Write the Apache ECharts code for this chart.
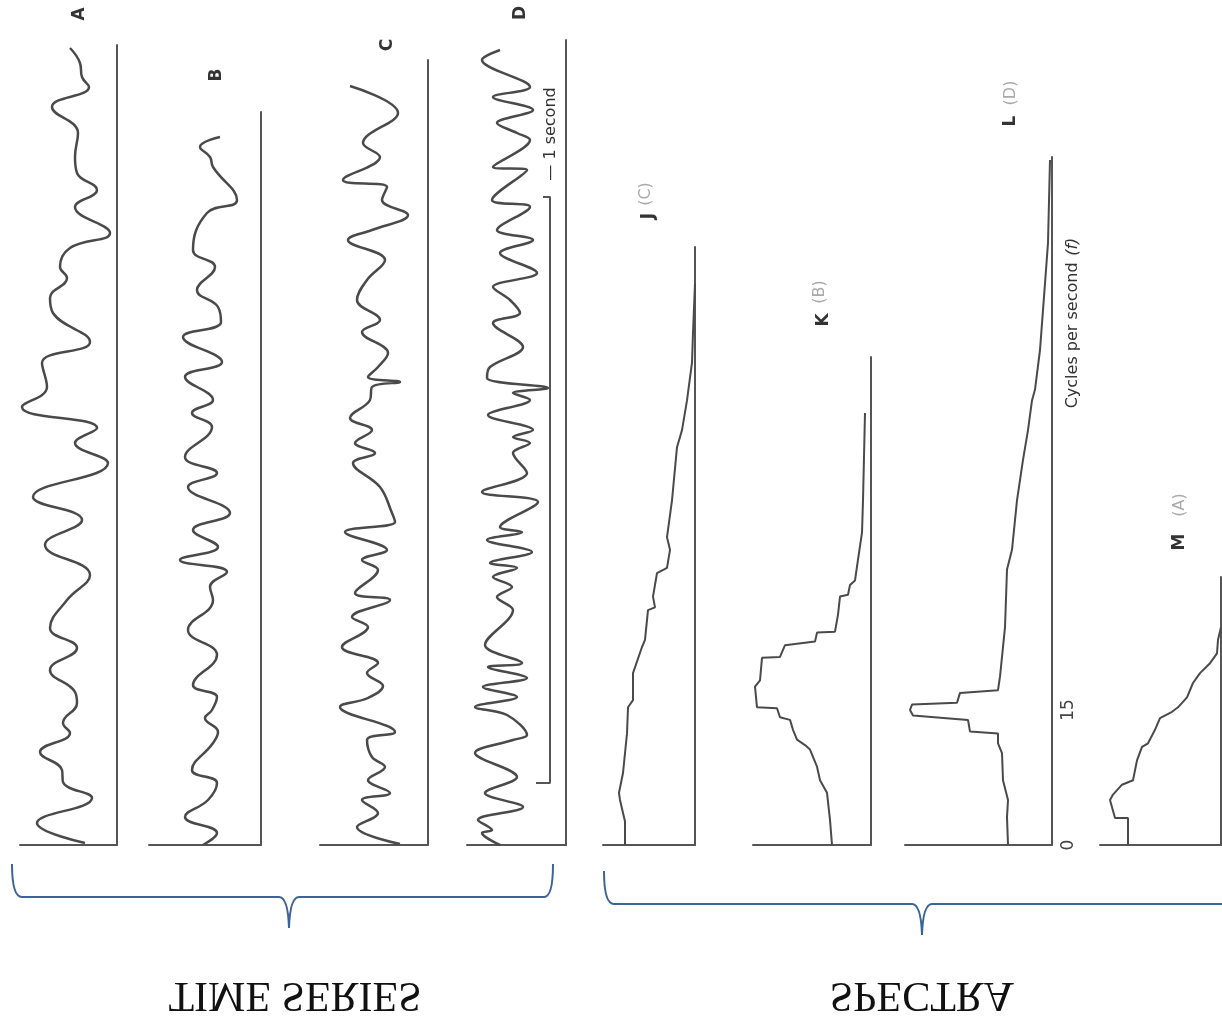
<!DOCTYPE html>
<html>
<head>
<meta charset="utf-8">
<script src="https://cdn.jsdelivr.net/npm/echarts@6/dist/echarts.min.js"></script>
<style>
html,body{margin:0;padding:0;background:#fff;}
#c{width:1222px;height:1021px;}
</style>
</head>
<body>
<div id="c"></div>
<script>
// ---- Time series: [amplitude (left of baseline), time] ----
const seriesA = [[47,797],[37,782],[35,768],[28,758],[65,738],[39,712],[42,688],[40,672],[20,655],[42,638],[7,612],[47,597],[57,578],[50,567],[67,547],[64,532],[27,503],[75,482],[70,458],[95,438],[20,417],[42,402],[9,382],[84,348],[35,325],[72,300],[27,270],[50,245],[67,217],[40,197],[67,175],[42,153],[40,142],[54,122],[47,112],[77,93],[55,75],[54,63],[25,47],[80,22],[32,2]];
const seriesB = [[41,708],[61,698],[51,688],[48,678],[24,645],[54,632],[68,595],[46,578],[64,555],[43,538],[40,523],[78,508],[39,483],[76,468],[48,445],[69,432],[49,418],[76,388],[44,372],[73,358],[31,332],[68,315],[43,298],[81,285],[34,273],[51,258],[48,245],[73,215],[44,190],[68,160],[44,148],[49,135],[56,127],[43,113],[48,102],[69,75],[44,62],[53,45],[76,28],[44,12],[58,0]];
const seriesC = [[78,759],[30,732],[65,702],[48,688],[85,665],[41,658],[46,645],[20,630],[56,615],[80,605],[43,585],[61,565],[71,545],[48,525],[66,513],[40,492],[50,478],[60,468],[28,463],[56,458],[58,445],[78,427],[56,415],[73,402],[53,392],[75,382],[48,358],[36,332],[33,323],[83,313],[41,295],[66,285],[50,275],[73,252],[38,245],[76,228],[60,218],[86,198],[50,182],[61,172],[45,159],[60,147],[88,138],[33,113],[61,105],[56,88],[43,78],[60,65],[38,52],[66,45],[50,32],[71,18],[28,1]];
const seriesD = [[66,795],[84,785],[36,758],[73,748],[33,735],[69,722],[49,712],[36,705],[73,678],[39,675],[74,645],[36,638],[69,615],[33,605],[66,592],[29,572],[73,558],[56,545],[46,532],[73,522],[43,498],[76,478],[79,467],[18,457],[53,452],[36,445],[78,430],[33,415],[53,408],[36,402],[53,392],[39,372],[84,353],[28,343],[66,318],[44,313],[79,305],[34,293],[76,282],[49,277],[73,268],[54,258],[69,248],[53,235],[81,200],[44,182],[78,178],[39,167],[83,158],[49,148],[91,138],[59,130],[39,110],[53,105],[91,92],[49,68],[81,52],[43,38],[88,25],[74,15],[84,12],[66,0]];
// 1-second scale bar drawn beside series D
const scaleBar = [[30,62],[16,62],[16,648],[23,648]];

// ---- Spectra: [power (left of baseline), frequency in cycles per second] ----
const spectrumJ = [[70,0],[70,2.6],[75,5.0],[76,5.8],[72,8.0],[68,12.4],[67,15.3],[62,16.1],[62,19.1],[53,22.0],[50,22.8],[47,26.1],[40,26.4],[42,27.6],[38,30.2],[28,30.8],[25,32.8],[28,34.2],[23,38.3],[18,44.2],[13,46.1],[8,49.4],[3,53.6],[2,56.9],[0,62.4]];
const spectrumK = [[39,0],[41,2.8],[44,5.8],[51,7.2],[54,8.7],[61,10.6],[66,11.1],[74,11.7],[78,12.8],[81,13.9],[91,14.2],[94,15.2],[114,15.3],[116,17.6],[111,18.3],[109,20.8],[91,20.9],[86,22.2],[56,22.6],[54,23.6],[36,23.7],[33,25.6],[31,27.6],[23,27.8],[21,28.9],[16,29.4],[13,31.7],[9,34.7],[8,38.3],[6,48.0]];
const spectrumL = [[44,0],[45,3.1],[44,5.0],[49,7.2],[50,10.2],[54,11.3],[54,12.4],[82,12.6],[84,13.9],[139,14.4],[142,15.0],[140,15.6],[95,15.8],[92,16.9],[54,17.2],[52,18.7],[50,20.9],[47,24.2],[45,30.6],[40,32.8],[39,33.9],[35,38.3],[29,42.8],[24,46.1],[20,49.4],[17,50.6],[12,55.0],[7,62.4],[4,66.9],[2,76.1]];
const spectrumM = [[93,0],[93,3.0],[106,3.0],[111,5.0],[108,5.6],[99,6.7],[88,7.2],[84,9.4],[79,10.9],[73,11.3],[66,12.8],[61,14.1],[49,14.8],[43,15.3],[34,16.4],[28,18.0],[21,19.1],[11,20.2],[4,21.3],[3,22.8],[0,24.2]];
// 15 c/s marker line on spectrum L
const markerL = [[149,15],[34,15]];

const freqTicks = [0, 15];
const tsLabels = ['A','B','C','D'];
const specLabels = ['J','K','L','M'];
const specSources = ['(C)','(B)','(D)','(A)'];
const groupTitles = ['TIME SERIES','SPECTRA'];
const axisTitle = 'Cycles per second';

// ---- layout ----
const panels = [
  {data: seriesA, left:20,  top:45,  width:97,  height:800, ymax:800, smooth:0.45},
  {data: seriesB, left:149, top:112, width:112, height:733, ymax:733, smooth:0.45},
  {data: seriesC, left:320, top:60,  width:108, height:785, ymax:785, smooth:0.4},
  {data: seriesD, left:467, top:40,  width:99,  height:805, ymax:805, smooth:0.35},
  {data: spectrumJ, left:603, top:247, width:92,  height:598, ymax:598/9, smooth:false},
  {data: spectrumK, left:753, top:357, width:118, height:488, ymax:488/9, smooth:false},
  {data: spectrumL, left:905, top:157, width:147, height:688, ymax:688/9, smooth:false},
  {data: spectrumM, left:1100, top:577, width:121, height:268, ymax:268/9, smooth:false}
];

const INK = '#4a4a4a';
const grids = [], xAxes = [], yAxes = [], series = [];
panels.forEach((p, i) => {
  grids.push({left:p.left, top:p.top, width:p.width, height:p.height, containLabel:false, outerBoundsMode:'none', show:false});
  xAxes.push({gridIndex:i, type:'value', inverse:true, min:0, max:p.width,
    axisLine:{show:true, onZero:false, lineStyle:{color:'#555', width:2}},
    axisTick:{show:false}, axisLabel:{show:false}, splitLine:{show:false}});
  const ya = {gridIndex:i, type:'value', min:0, max:p.ymax, position:'right',
    axisLine:{show:true, onZero:false, lineStyle:{color:'#555', width:2}},
    axisTick:{show:false}, axisLabel:{show:false}, splitLine:{show:false}};
  if (i === 6) {
    ya.interval = 15;
    ya.axisLabel = {show:true, rotate:90, margin:8, fontSize:17, color:'#444',
      fontFamily:'DejaVu Sans',
      formatter: v => freqTicks.indexOf(v) >= 0 ? String(v) : ''};
  }
  yAxes.push(ya);
  const s = {type:'line', xAxisIndex:i, yAxisIndex:i, data:p.data, showSymbol:false,
    smooth:p.smooth, clip:false, silent:true,
    lineStyle:{color:INK, width: i < 4 ? 2.5 : 2}};
  if (i === 6) {
    s.markLine = {silent:true, symbol:['none','none'], label:{show:false},
      lineStyle:{color:'#555', width:1, type:'solid'},
      data:[[{coord:markerL[0]},{coord:markerL[1]}]]};
  }
  series.push(s);
});
// scale bar (in panel D coordinates)
series.push({type:'line', xAxisIndex:3, yAxisIndex:3, data:scaleBar, showSymbol:false,
  clip:false, silent:true, lineStyle:{color:'#555', width:2}});

// ---- text & decoration ----
const R = Math.PI/2;
function rtext(x, y, text, size, color, weight) {
  return {type:'text', x:x, y:y, rotation:R, silent:true,
    style:{text:text, x:0, y:0, align:'center', verticalAlign:'middle',
      fontSize:size, fontFamily:'DejaVu Sans', fontWeight:weight || 'normal', fill:color}};
}
const labelPos = [[80,14],[217,75],[388,45],[521,13]];
const specPos = [[649,216],[824,320],[1011,121],[1180,542]];
const srcPos = [[646,194],[820,292],[1011,93],[1180,505]];
const graphics = [];
tsLabels.forEach((t,i) => graphics.push(rtext(labelPos[i][0], labelPos[i][1], t, 17, '#333', 'bold')));
specLabels.forEach((t,i) => graphics.push(rtext(specPos[i][0], specPos[i][1], t, 17, '#333', 'bold')));
specSources.forEach((t,i) => graphics.push(rtext(srcPos[i][0], srcPos[i][1], t, 16, '#aaa')));
graphics.push(rtext(551, 134, '\u2014 1 second', 16, '#333'));
graphics.push({type:'text', x:1073, y:323, rotation:R, silent:true,
  style:{text:'{n|' + axisTitle + '}  {i|(f)}', x:0, y:0, align:'center', verticalAlign:'middle',
    rich:{n:{fontSize:16, fontFamily:'DejaVu Sans', fill:'#333'},
          i:{fontSize:16, fontFamily:'DejaVu Sans', fontStyle:'italic', fill:'#333'}}}});

const BR = {stroke:'#3d6496', lineWidth:2, fill:null};
function bz(x1,y1,cx,cy,x2,y2){return {type:'bezierCurve', silent:true, shape:{x1:x1,y1:y1,cpx1:cx,cpy1:cy,x2:x2,y2:y2}, style:Object.assign({},BR)};}
function ln(x1,y1,x2,y2){return {type:'line', silent:true, shape:{x1:x1,y1:y1,x2:x2,y2:y2}, style:Object.assign({},BR)};}
// left brace
graphics.push(bz(12,864,12,897,22,897), ln(22,897,279,897), bz(279,897,288,897,289,928),
  bz(289,928,290,897,299,897), ln(299,897,544,897), bz(544,897,553,897,553,864));
// right brace
graphics.push(bz(604,871,604,904,614,904), ln(614,904,912,904), bz(912,904,921,904,922,935),
  bz(922,935,923,904,932,904), ln(932,904,1224,904));
// flipped group titles
graphics.push({type:'text', x:295, y:994, scaleY:-1, silent:true,
  style:{text:groupTitles[0], x:0, y:0, align:'center', verticalAlign:'middle',
    fontSize:42, fontFamily:'Liberation Serif', fill:'#111'}});
graphics.push({type:'text', x:922, y:994, scaleY:-1, silent:true,
  style:{text:groupTitles[1], x:0, y:0, align:'center', verticalAlign:'middle',
    fontSize:42, fontFamily:'Liberation Serif', fill:'#111'}});

const chart = echarts.init(document.getElementById('c'), null, {renderer:'canvas'});
chart.setOption({
  animation:false,
  backgroundColor:'#fff',
  grid:grids, xAxis:xAxes, yAxis:yAxes, series:series, graphic:graphics
});
</script>
</body>
</html>
